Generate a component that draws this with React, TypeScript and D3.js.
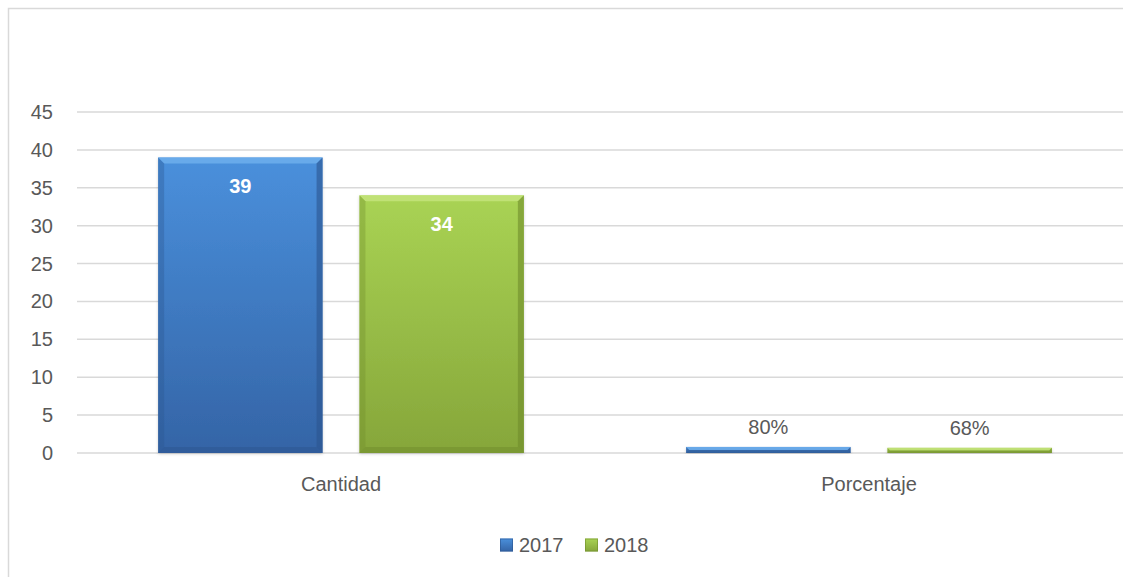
import React from 'react';
import * as d3 from 'd3';

const categories = ['Cantidad', 'Porcentaje'];
const seriesNames = ['2017', '2018'];
const values2017 = [39, 0.8];
const values2018 = [34, 0.68];
const valueLabels2017 = ['39', '80%'];
const valueLabels2018 = ['34', '68%'];
const yTicks = [0, 5, 10, 15, 20, 25, 30, 35, 40, 45];

const W = 1123;
const H = 577;
const margin = { top: 112, right: -10, bottom: 124, left: 77 };
const FONT = '"Liberation Sans", Arial, sans-serif';
const TEXT = '#595959';

const palette = [
  { top: '#4a90dc', bottom: '#3464a6', light: '#70b0ee', dark: '#2c5590' },
  { top: '#a9d354', bottom: '#86a63a', light: '#c6e57e', dark: '#6f8c2c' },
];

const App: React.FC = () => {
  const x0 = d3.scaleBand<string>()
    .domain(categories)
    .range([margin.left, W - margin.right]);

  const x1 = d3.scaleBand<string>()
    .domain(seriesNames)
    .range([0, x0.bandwidth()])
    .paddingInner(0.183)
    .paddingOuter(0.403);

  const y = d3.scaleLinear()
    .domain([0, 45])
    .range([H - margin.bottom, margin.top]);

  const series = [
    { name: seriesNames[0], values: values2017, labels: valueLabels2017 },
    { name: seriesNames[1], values: values2018, labels: valueLabels2018 },
  ];

  const bevel = 6;

  return (
    <div style={{ position: 'fixed', left: 0, top: 0, width: W, height: H, background: '#fff' }}>
      <svg width={W} height={H} style={{ display: 'block' }}>
        <defs>
          {palette.map((p, i) => (
            <linearGradient key={i} id={`grad${i}`} x1="0" y1="0" x2="0" y2="1">
              <stop offset="0%" stopColor={p.top} />
              <stop offset="100%" stopColor={p.bottom} />
            </linearGradient>
          ))}
          <filter id="shadow" x="-10%" y="-10%" width="120%" height="120%">
            <feDropShadow dx="0" dy="1" stdDeviation="1.5" floodColor="#000" floodOpacity="0.18" />
          </filter>
        </defs>

        {/* chart frame */}
        <path d={`M8.5,${H} V8.5 H${W}`} fill="none" stroke="#d9d9d9" strokeWidth={1.5} />

        {/* grid */}
        {yTicks.map(t => (
          <g key={t}>
            <line x1={margin.left} x2={W} y1={y(t)} y2={y(t)} stroke="#d9d9d9" strokeWidth={1.5} />
            <text x={53} y={y(t)} dy="0.35em" textAnchor="end" fontFamily={FONT} fontSize={20} fill={TEXT}>{t}</text>
          </g>
        ))}

        {/* bars */}
        {categories.map((c, ci) => (
          <g key={c} transform={`translate(${x0(c)},0)`}>
            {series.map((s, si) => {
              const p = palette[si];
              const bx = x1(s.name) || 0;
              const bw = x1.bandwidth();
              const by = y(s.values[ci]);
              const bh = y(0) - by;
              const b = Math.min(bevel, bh / 2);
              const big = bh > 40;
              return (
                <g key={s.name}>
                  <rect x={bx} y={by} width={bw} height={bh} fill={`url(#grad${si})`} filter="url(#shadow)" />
                  <path d={`M${bx},${by} H${bx + bw} L${bx + bw - b},${by + b} H${bx + b} Z`} fill={p.light} opacity={0.8} />
                  <path d={`M${bx},${by} L${bx + b},${by + b} V${by + bh - b} L${bx},${by + bh} Z`} fill={p.dark} opacity={0.35} />
                  <path d={`M${bx + bw},${by} L${bx + bw - b},${by + b} V${by + bh - b} L${bx + bw},${by + bh} Z`} fill={p.dark} opacity={0.6} />
                  <path d={`M${bx},${by + bh} L${bx + b},${by + bh - b} H${bx + bw - b} L${bx + bw},${by + bh} Z`} fill={p.dark} opacity={0.5} />
                  {big ? (
                    <text x={bx + bw / 2} y={by + 29} dy="0.35em" textAnchor="middle" fontFamily={FONT} fontSize={20} fontWeight="bold" fill="#fff">{s.labels[ci]}</text>
                  ) : (
                    <text x={bx + bw / 2} y={by - 20} dy="0.35em" textAnchor="middle" fontFamily={FONT} fontSize={20} fill={TEXT}>{s.labels[ci]}</text>
                  )}
                </g>
              );
            })}
            <text x={x0.bandwidth() / 2} y={y(0) + 31} dy="0.35em" textAnchor="middle" fontFamily={FONT} fontSize={20} fill={TEXT}>{c}</text>
          </g>
        ))}

        {/* legend */}
        {series.map((s, si) => {
          const lx = 500 + si * 85;
          return (
            <g key={s.name} transform={`translate(${lx},545)`}>
              <rect x={0} y={-6.5} width={13} height={13} fill={`url(#grad${si})`} />
              <rect x={0.5} y={-6} width={12} height={12} fill="none" stroke={palette[si].dark} strokeOpacity={0.6} />
              <text x={19} y={0} dy="0.35em" fontFamily={FONT} fontSize={20} fill={TEXT}>{s.name}</text>
            </g>
          );
        })}
      </svg>
    </div>
  );
};

export default App;
